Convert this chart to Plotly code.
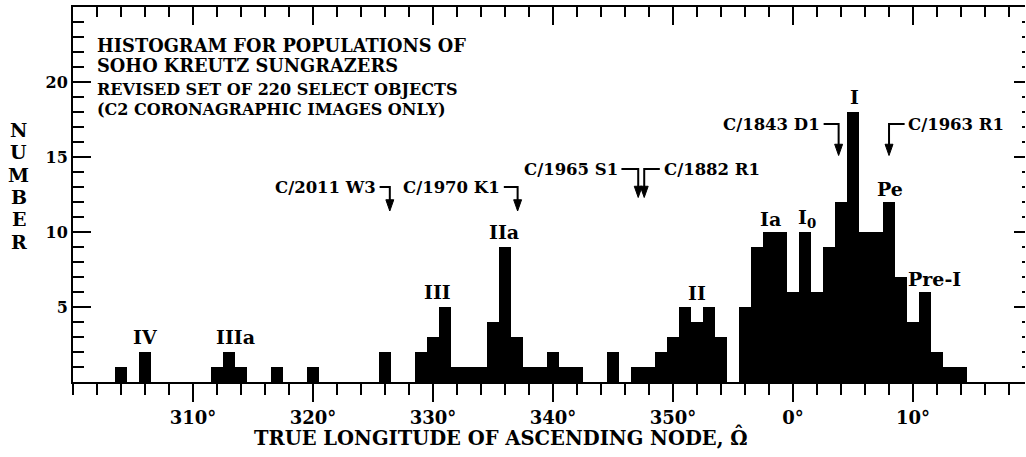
import plotly.graph_objects as go

# ---- data: histogram bins (1-degree bins, centres in degrees) ----
bin_centres = [304, 306, 312, 313, 314, 317, 320, 326, 329, 330, 331, 332, 333, 334,
               335, 336, 337, 338, 339, 340, 341, 342, 345, 347, 348, 349, 350, 351,
               352, 353, 354, 356, 357, 358, 359, 0, 1, 2, 3, 4, 5, 6, 7, 8, 9,
               10, 11, 12, 13, 14]
counts = [1, 2, 1, 2, 1, 1, 1, 2, 2, 3, 5, 1, 1, 1,
          4, 9, 3, 1, 1, 2, 1, 1, 2, 1, 1, 2, 3, 5,
          4, 5, 3, 5, 9, 10, 10, 6, 10, 6, 9, 12, 18, 10, 10, 12, 7,
          4, 6, 2, 1, 1]

x_tick_vals = [310, 320, 330, 340, 350, 360, 370]
x_tick_text = ["310°", "320°", "330°", "340°", "350°", "0°", "10°"]
y_tick_vals = [5, 10, 15, 20]

# population labels: (text, longitude, y)
pop_labels = [("IV", 306, 3.0), ("IIIa", 313.5, 3.0), ("III", 330.4, 6.0),
              ("IIa", 335.9, 10.0), ("II", 352.0, 5.95), ("Ia", 358.1, 10.9),
              ("I<sub>0</sub>", 1.2, 10.9), ("I", 5.1, 19.0), ("Pe", 8.1, 12.9),
              ("Pre-I", 11.8, 6.9)]

# comet markers: (name, side, text end, elbow x (arrow), y of elbow, y of tip)
comets = [("C/2011 W3", "left", 325.25, 326.4, 13.0, 11.4),
          ("C/1970 K1", "left", 335.6, 337.05, 13.0, 11.4),
          ("C/1965 S1", "left", 345.4, 347.1, 14.2, 12.3),
          ("C/1882 R1", "right", 349.2, 347.6, 14.2, 12.3),
          ("C/1843 D1", "left", 362.25, 363.8, 17.2, 15.1),
          ("C/1963 R1", "right", 369.6, 368.0, 17.2, 15.1)]

title_lines = [("HISTOGRAM FOR POPULATIONS OF", 22.45, 17.8),
               ("SOHO KREUTZ SUNGRAZERS", 21.1, 17.8),
               ("REVISED SET OF 220 SELECT OBJECTS", 19.5, 16),
               ("(C2 CORONAGRAPHIC IMAGES ONLY)", 18.2, 16)]

y_title_letters = ["N", "U", "M", "B", "E", "R"]
x_title = "TRUE LONGITUDE OF ASCENDING NODE, \u03a9"


def unwrap(lon):
    return lon + 360 if lon < 300 else lon


FONT = "DejaVu Serif"
X_RANGE = [300, 379.33]
Y_RANGE = [0, 25]


def bold(size):
    return dict(family=FONT, size=size, color="black", weight="bold")


fig = go.Figure()
fig.add_trace(go.Bar(x=[unwrap(c) for c in bin_centres], y=counts, width=1,
                     marker=dict(color="black", line=dict(width=0)),
                     showlegend=False, hoverinfo="x+y"))
# dummy trace so that the mirrored top / right axes get drawn
fig.add_trace(go.Scatter(x=[None], y=[None], xaxis="x2", yaxis="y2",
                         showlegend=False, hoverinfo="skip"))

ann = []
for txt, lon, yv in pop_labels:
    ann.append(dict(x=unwrap(lon), y=yv, text=txt, showarrow=False, xanchor="center",
                    yanchor="middle", font=bold(19)))

shapes = []
head_w = 0.33   # half width in degrees
head_h = 0.75   # height in counts
for name, side, tx, ex, ey, tip in comets:
    if side == "left":
        hx0 = tx + 0.3
        ann.append(dict(x=tx + 0.15, y=ey, text=name, showarrow=False, xanchor="right",
                        yanchor="middle", font=bold(16.5)))
    else:
        hx0 = tx - 0.3
        ann.append(dict(x=tx - 0.15, y=ey, text=name, showarrow=False, xanchor="left",
                        yanchor="middle", font=bold(16.5)))
    shapes.append(dict(type="path", xref="x", yref="y",
                       path=f"M {hx0},{ey} L {ex},{ey} L {ex},{tip + head_h * 0.6}",
                       line=dict(color="black", width=2)))
    shapes.append(dict(type="path", xref="x", yref="y",
                       path=f"M {ex - head_w},{tip + head_h} L {ex + head_w},{tip + head_h} L {ex},{tip} Z",
                       fillcolor="black", line=dict(color="black", width=1)))

for txt, yv, sz in title_lines:
    ann.append(dict(x=301.85, y=yv, text=txt, showarrow=False, xanchor="left",
                    yanchor="middle", font=bold(sz)))

# stacked y-axis title
for i, letter in enumerate(y_title_letters):
    ann.append(dict(xref="paper", x=-0.057, y=16.8 - i * 1.49, text=letter,
                    showarrow=False, xanchor="center", yanchor="middle", font=bold(19)))

# x-axis title (placed as annotation, offset like in the original)
# paper y: plot height 375 px, title centre 56 px below the baseline
ann.append(dict(x=335.67, yref="paper", y=-56 / 375, text=x_title, showarrow=False,
                xanchor="center", yanchor="middle", font=bold(19.5)))
ann.append(dict(x=355.5, yref="paper", y=-51 / 375, text="\u02c6", showarrow=False,
                xanchor="center", yanchor="middle", font=bold(19)))

fig.update_layout(
    width=1026, height=457,
    margin=dict(l=73, r=1, t=7, b=75, autoexpand=False),
    paper_bgcolor="white", plot_bgcolor="white",
    bargap=0,
    font=dict(family=FONT, color="black"),
    xaxis=dict(range=X_RANGE, showgrid=False, zeroline=False, automargin=False,
               showline=True, linecolor="black", linewidth=2,
               ticks="outside", ticklen=18, tickwidth=2, tickcolor="black",
               tickmode="array", tickvals=x_tick_vals, ticktext=x_tick_text,
               tickfont=bold(18),
               minor=dict(tickmode="linear", tick0=300, dtick=2, ticks="outside",
                          ticklen=11, tickwidth=2, tickcolor="black", showgrid=False)),
    xaxis2=dict(range=X_RANGE, overlaying="x", side="top", showgrid=False,
                zeroline=False, showline=True, linecolor="black", linewidth=2,
                automargin=False,
                ticks="inside", ticklen=18, tickwidth=2, tickcolor="black",
                tickmode="array", tickvals=x_tick_vals, showticklabels=False,
                minor=dict(tickmode="linear", tick0=300, dtick=2, ticks="inside",
                           ticklen=10, tickwidth=2, tickcolor="black", showgrid=False)),
    yaxis=dict(range=Y_RANGE, showgrid=False, zeroline=False, automargin=False,
               showline=True, linecolor="black", linewidth=2,
               ticks="inside", ticklen=18, tickwidth=2, tickcolor="black",
               tickmode="array", tickvals=y_tick_vals,
               tickfont=bold(16),
               minor=dict(tickmode="linear", tick0=0, dtick=1, ticks="inside",
                          ticklen=11, tickwidth=2, tickcolor="black", showgrid=False)),
    yaxis2=dict(range=Y_RANGE, overlaying="y", side="right", showgrid=False,
                zeroline=False, showline=False, automargin=False,
                ticks="inside", ticklen=11, tickwidth=2, tickcolor="black",
                tickmode="array", tickvals=y_tick_vals, showticklabels=False,
                minor=dict(tickmode="linear", tick0=0, dtick=1, ticks="inside",
                           ticklen=3, tickwidth=2, tickcolor="black", showgrid=False)),
    annotations=ann,
    shapes=shapes,
)

fig.write_html("out.html", config={"displayModeBar": False},
               post_script="document.body.style.margin='0';document.body.style.padding='0';")
